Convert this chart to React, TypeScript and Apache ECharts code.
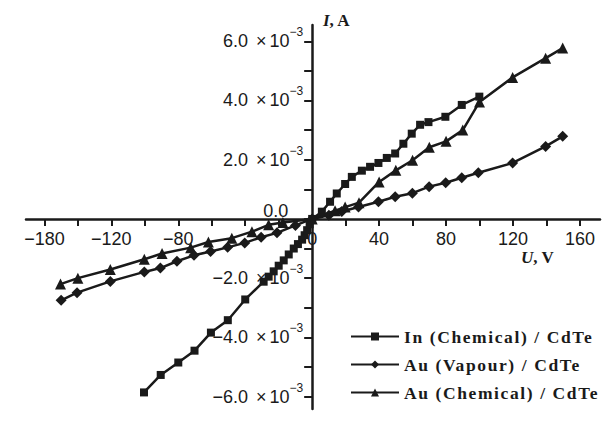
import React, { useEffect, useRef } from "react";
import * as echarts from "echarts";

// ---- data (U in V, I in A) ----
const seriesNames = ["In (Chemical) / CdTe", "Au (Vapour) / CdTe", "Au (Chemical) / CdTe"];

const inChemical: [number, number][] = [
  [-100.5, -5.86e-3], [-90.5, -5.27e-3], [-80, -4.85e-3], [-70.3, -4.45e-3], [-60.5, -3.84e-3],
  [-50.4, -3.42e-3], [-40, -2.72e-3], [-29, -2.12e-3], [-26, -1.95e-3], [-23, -1.77e-3],
  [-20, -1.58e-3], [-17, -1.4e-3], [-14, -1.2e-3], [-11, -1.0e-3], [-8.5, -0.85e-3],
  [-6, -0.7e-3], [-4.5, -0.55e-3], [-3, -0.38e-3], [-1.5, -0.18e-3], [0, 0],
  [5.8, 0.245e-3], [10.7, 0.58e-3], [14.7, 0.86e-3], [19.7, 1.18e-3], [23.7, 1.42e-3],
  [29.7, 1.63e-3], [34.6, 1.76e-3], [39.6, 1.89e-3], [44.6, 2.06e-3], [49.6, 2.21e-3],
  [54.5, 2.54e-3], [59.5, 2.88e-3], [64.5, 3.18e-3], [69.5, 3.27e-3], [79.6, 3.45e-3],
  [89.4, 3.85e-3], [99.9, 4.13e-3],
];

const auVapour: [number, number][] = [
  [-150, -2.75e-3], [-140.5, -2.49e-3], [-120.6, -2.11e-3], [-100.3, -1.79e-3], [-90.7, -1.66e-3],
  [-80.8, -1.43e-3], [-70.6, -1.23e-3], [-60.7, -1.1e-3], [-50.5, -0.96e-3], [-40.3, -0.81e-3],
  [-30.5, -0.62e-3], [-21, -0.47e-3], [-10, -0.22e-3], [0, 0], [10, 0.12e-3],
  [17.7, 0.25e-3], [27.7, 0.4e-3], [39.6, 0.58e-3], [49.6, 0.75e-3], [59.9, 0.87e-3],
  [69.9, 1.09e-3], [79.8, 1.22e-3], [89.4, 1.39e-3], [99.3, 1.56e-3], [119.8, 1.89e-3],
  [139.5, 2.45e-3], [149.7, 2.79e-3],
];

const auChemical: [number, number][] = [
  [-150.4, -2.2e-3], [-140, -2.0e-3], [-120.6, -1.71e-3], [-100.3, -1.36e-3], [-89.7, -1.17e-3],
  [-72.6, -0.97e-3], [-62, -0.78e-3], [-48, -0.65e-3], [-36, -0.43e-3], [-26, -0.2e-3],
  [-17.5, -0.12e-3], [0, 0], [13.7, 0.28e-3], [19.7, 0.4e-3], [28, 0.55e-3],
  [40, 1.25e-3], [50, 1.64e-3], [60, 1.98e-3], [70, 2.42e-3], [80, 2.62e-3],
  [90, 3.0e-3], [100, 3.95e-3], [119.8, 4.78e-3], [139.5, 5.43e-3], [149.7, 5.77e-3],
];

// ---- ticks / labels ----
const xTickValues = [-160, -140, -120, -100, -80, -60, -40, -20, 0, 20, 40, 60, 80, 100, 120, 140, 160];
const xLabelValues = [-160, -120, -80, 0, 40, 80, 120, 160];
const xLabelTexts = ["−180", "−120", "−80", "0", "40", "80", "120", "160"];

const yTickValues = [-6e-3, -5e-3, -4e-3, -3e-3, -2e-3, -1e-3, 0, 1e-3, 2e-3, 3e-3, 4e-3, 5e-3, 6e-3];
const yLabelValues = [-6e-3, -4e-3, -2e-3, 0, 2e-3, 4e-3, 6e-3];
const yLabelMantissas = ["−6.0", "−4.0", "−2.0", "0.0", "2.0", "4.0", "6.0"];
const yLabelExponent = "−3";

const X_MIN = -171;
const X_MAX = 172;
const Y_MIN = -6.42e-3;
const Y_MAX = 6.55e-3;

const INK = "#1a1a1a";
const SANS = "'Liberation Sans', Arial, sans-serif";
const SERIF = "'Liberation Serif', 'Times New Roman', serif";

const W = 609;
const H = 429;
const GRID = { left: 26, right: 9, top: 25, bottom: 20 };

export default function App() {
  const ref = useRef<HTMLDivElement>(null);

  useEffect(() => {
    if (!ref.current) return;
    const chart = echarts.init(ref.current, null, { renderer: "svg" });

    // put each axis (line, ticks and labels) through the other axis's zero
    const plotW = W - GRID.left - GRID.right;
    const plotH = H - GRID.top - GRID.bottom;
    const yAxisOffset = -((0 - X_MIN) / (X_MAX - X_MIN)) * plotW;
    const xAxisOffset = -((0 - Y_MIN) / (Y_MAX - Y_MIN)) * plotH;

    const lineCommon = {
      type: "line" as const,
      showAllSymbol: true,
      lineStyle: { color: INK, width: 2.5 },
      itemStyle: { color: INK },
      emphasis: { disabled: true },
    };

    chart.setOption({
      animation: false,
      grid: { ...GRID, containLabel: false, outerBoundsMode: "none" },
      xAxis: {
        type: "value",
        min: X_MIN,
        max: X_MAX,
        position: "bottom",
        offset: xAxisOffset,
        axisLine: { onZero: false, lineStyle: { color: INK, width: 2.5 } },
        axisTick: { show: true, customValues: xTickValues, length: 7, lineStyle: { color: INK, width: 2 } },
        axisLabel: {
          customValues: xLabelValues,
          margin: 11,
          fontFamily: SANS,
          fontSize: 18,
          color: INK,
          formatter: (v: number) => {
            const i = xLabelValues.findIndex((x) => Math.abs(x - v) < 1e-6);
            return i >= 0 ? xLabelTexts[i] : "";
          },
        },
        splitLine: { show: false },
      },
      yAxis: {
        type: "value",
        min: Y_MIN,
        max: Y_MAX,
        position: "left",
        offset: yAxisOffset,
        axisLine: { onZero: false, lineStyle: { color: INK, width: 2.5 } },
        axisTick: { show: true, customValues: yTickValues, length: 8, lineStyle: { color: INK, width: 2 } },
        axisLabel: {
          customValues: yLabelValues,
          margin: 9,
          color: INK,
          formatter: (v: number) => {
            const i = yLabelValues.findIndex((y) => Math.abs(y - v) < 1e-9);
            if (i < 0) return "";
            if (Math.abs(v) < 1e-12) return `{z|${yLabelMantissas[i]}}`;
            return `{m|${yLabelMantissas[i]}}{x|×}{m|10}{s|${yLabelExponent}}`;
          },
          rich: {
            m: { fontFamily: SANS, fontSize: 18, color: INK, lineHeight: 30 },
            x: { fontFamily: SANS, fontSize: 18, color: INK, lineHeight: 30, padding: [0, 3, 0, 8] },
            s: { fontFamily: SANS, fontSize: 12, color: INK, lineHeight: 12, verticalAlign: "top" },
            z: { fontFamily: SANS, fontSize: 18, color: INK, lineHeight: 22, padding: [0, 15, 16, 0] },
          },
        },
        splitLine: { show: false },
      },
      legend: {
        orient: "vertical",
        left: 350,
        top: 327.5,
        padding: 0,
        itemWidth: 48,
        itemHeight: 10,
        itemGap: 10,
        selectedMode: false,
        data: seriesNames,
        textStyle: { fontFamily: SERIF, fontWeight: "bold", fontSize: 17.5, color: INK, lineHeight: 18 },
      },
      graphic: [
        {
          type: "text",
          left: 323,
          top: 12,
          style: {
            text: "{i|I}{n|, A}",
            rich: {
              i: { fontFamily: SERIF, fontStyle: "italic", fontWeight: "bold", fontSize: 17, fill: INK },
              n: { fontFamily: SERIF, fontWeight: "bold", fontSize: 17, fill: INK },
            },
          },
        },
        {
          type: "text",
          left: 521,
          top: 249,
          style: {
            text: "{i|U}{n|, V}",
            rich: {
              i: { fontFamily: SERIF, fontStyle: "italic", fontWeight: "bold", fontSize: 17, fill: INK },
              n: { fontFamily: SERIF, fontWeight: "bold", fontSize: 17, fill: INK },
            },
          },
        },
      ],
      series: [
        { ...lineCommon, name: seriesNames[0], data: inChemical, symbol: "rect", symbolSize: 8 },
        { ...lineCommon, name: seriesNames[1], data: auVapour, symbol: "diamond", symbolSize: 11 },
        { ...lineCommon, name: seriesNames[2], data: auChemical, symbol: "triangle", symbolSize: 11 },
      ],
    });

    // widen the legend lettering like the reference (letter-spaced serif)
    const svg = ref.current.querySelector("svg");
    if (svg) {
      svg.querySelectorAll("text").forEach((t) => {
        if (seriesNames.includes((t.textContent || "").trim())) {
          t.setAttribute("letter-spacing", "1.6");
        }
      });
    }

    return () => chart.dispose();
  }, []);

  return (
    <div
      ref={ref}
      style={{ position: "absolute", left: 0, top: 0, width: W, height: H, background: "#fff" }}
    />
  );
}
